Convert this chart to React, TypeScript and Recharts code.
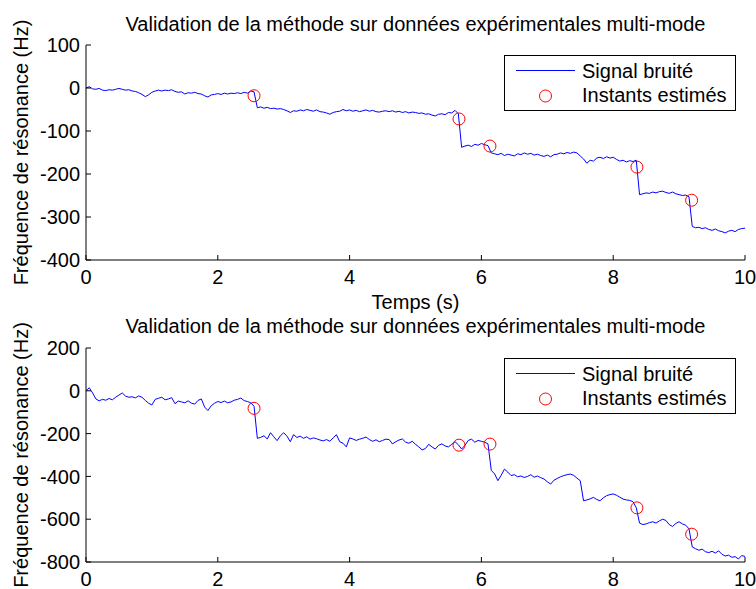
import { ComposedChart, Line, Scatter, XAxis, YAxis } from 'recharts';

// sampling step of the recorded signal (s)
const SAMPLE_STEP = 0.05;

const timeTicks = [0, 2, 4, 6, 8, 10];
const topTicks = [-400, -300, -200, -100, 0, 100];
const bottomTicks = [-800, -600, -400, -200, 0, 200];

const instantTimes = [2.55, 5.66, 6.13, 8.36, 9.19];
const topInstantValues = [-18, -72, -135, -184, -261];
const bottomInstantValues = [-82, -254, -249, -547, -670];

// top subplot, one row per second
const topSignal = [
  0, 3, -2, -3, -1, -5, -6, -4, -5, -3, -1, -3, -5, -4, -7, -8, -11, -15, -20, -16,
  -10, -7, -5, -7, -5, -6, -4, -8, -10, -9, -14, -11, -12, -10, -13, -14, -18, -21, -16, -15,
  -13, -15, -12, -14, -12, -13, -11, -13, -10, -12, -7, -9, -46, -44, -47, -45, -48, -47, -49, -48,
  -50, -53, -57, -53, -54, -51, -53, -50, -52, -54, -51, -55, -56, -58, -61, -57, -55, -54, -50, -53,
  -51, -54, -52, -55, -53, -51, -54, -52, -55, -56, -54, -53, -55, -53, -56, -54, -57, -55, -58, -56,
  -57, -59, -58, -61, -60, -63, -65, -61, -60, -62, -57, -58, -52, -60, -138, -135, -133, -136, -131, -133,
  -129, -132, -134, -151, -153, -155, -152, -157, -154, -156, -158, -153, -155, -151, -154, -152, -156, -154, -157, -159,
  -156, -160, -155, -154, -151, -153, -150, -152, -149, -151, -158, -165, -175, -168, -170, -163, -161, -164, -160, -163,
  -161, -166, -170, -168, -172, -169, -171, -168, -248, -246, -244, -245, -242, -244, -241, -240, -243, -245, -242, -246,
  -248, -250, -249, -253, -322, -325, -324, -327, -325, -329, -331, -328, -332, -334, -337, -333, -331, -334, -329, -327,
  -326,
];

// bottom subplot, one row per second
const bottomSignal = [
  0, 14, -10, -38, -47, -40, -44, -36, -42, -30, -20, -10, -25, -30, -28, -33, -24, -30, -45, -58,
  -66, -40, -35, -30, -42, -38, -32, -60, -48, -52, -56, -47, -58, -62, -45, -38, -76, -92, -70, -58,
  -50, -55, -48, -56, -52, -44, -40, -34, -46, -50, -56, -72, -222, -218, -210, -225, -196, -215, -233, -210,
  -196, -212, -238, -205, -218, -212, -222, -215, -226, -220, -224, -230, -234, -228, -236, -220, -205, -238, -245, -262,
  -220, -225, -232, -226, -222, -216, -228, -236, -229, -238, -232, -226, -228, -248, -238, -230, -225, -240, -245, -236,
  -250, -262, -276, -270, -250, -262, -272, -255, -248, -258, -262, -250, -238, -252, -272, -255, -232, -226, -240, -232,
  -236, -240, -248, -372, -388, -420, -395, -366, -380, -396, -392, -402, -398, -405, -400, -392, -404, -398, -406, -412,
  -425, -436, -418, -410, -402, -396, -392, -389, -395, -408, -420, -514, -510, -505, -498, -508, -514, -500, -490, -485,
  -482, -488, -497, -506, -510, -512, -518, -546, -618, -625, -622, -616, -612, -618, -608, -600, -606, -625, -634, -620,
  -612, -622, -628, -645, -730, -738, -745, -740, -752, -756, -750, -758, -748, -764, -772, -768, -778, -775, -786, -770,
  -774,
];

const FONT = '"Liberation Sans", Arial, Helvetica, sans-serif';
const BLUE = '#0000ff';
const RED = '#ff0000';
const TITLE = 'Validation de la méthode sur données expérimentales multi-mode';
const Y_LABEL = 'Fréquence de résonance (Hz)';

const toSeries = (values: number[]) =>
  values.map((v, i) => ({ t: Math.round(i * SAMPLE_STEP * 100) / 100, v }));

const toInstants = (values: number[]) =>
  instantTimes.map((t, i) => ({ t, v: values[i] }));

const blank = () => '';

function RedCircle(props: { cx?: number; cy?: number }) {
  if (props.cx == null || props.cy == null) return null;
  return <circle cx={props.cx} cy={props.cy} r={6} fill="none" stroke={RED} strokeWidth={1} />;
}

interface SubplotProps {
  top: number;
  height: number;
  marginTop: number;
  xAxisHeight: number;
  signal: number[];
  instants: number[];
  domain: [number, number];
  ticks: number[];
  xLabel?: string;
}

function Subplot({ top, height, marginTop, xAxisHeight, signal, instants, domain, ticks, xLabel }: SubplotProps) {
  return (
    <div style={{ position: 'absolute', left: 0, top, width: 756, height }}>
      <ComposedChart
        width={756}
        height={height}
        data={toSeries(signal)}
        margin={{ top: marginTop, right: 11, bottom: 0, left: 0 }}
      >
        <XAxis
          xAxisId="b"
          type="number"
          dataKey="t"
          domain={[0, 10]}
          ticks={timeTicks}
          allowDataOverflow
          height={xAxisHeight}
          stroke="#000"
          tickSize={-5}
          tickMargin={15}
          tick={{ fill: '#000', fontSize: 20 }}
          label={xLabel ? { value: xLabel, position: 'insideBottom', offset: 11, fill: '#000', fontSize: 20 } : undefined}
        />
        <XAxis
          xAxisId="top"
          orientation="top"
          type="number"
          domain={[0, 10]}
          ticks={timeTicks}
          allowDataOverflow
          height={0}
          stroke="#000"
          tickSize={-5}
          tickFormatter={blank}
        />
        <YAxis
          yAxisId="l"
          type="number"
          dataKey="v"
          domain={domain}
          ticks={ticks}
          allowDataOverflow
          width={86}
          stroke="#000"
          tickSize={-5}
          tickMargin={11}
          tick={{ fill: '#000', fontSize: 20 }}
          label={{
            value: Y_LABEL,
            angle: -90,
            position: 'insideLeft',
            offset: 21,
            fill: '#000',
            fontSize: 20,
            style: { textAnchor: 'middle' },
          }}
        />
        <YAxis
          yAxisId="r"
          orientation="right"
          type="number"
          domain={domain}
          ticks={ticks}
          allowDataOverflow
          width={0}
          stroke="#000"
          tickSize={-5}
          tickFormatter={blank}
        />
        <Line
          xAxisId="b"
          yAxisId="l"
          type="linear"
          dataKey="v"
          stroke={BLUE}
          strokeWidth={1}
          dot={false}
          activeDot={false}
          isAnimationActive={false}
        />
        <Scatter
          xAxisId="b"
          yAxisId="l"
          data={toInstants(instants)}
          dataKey="v"
          shape={RedCircle}
          isAnimationActive={false}
        />
      </ComposedChart>
    </div>
  );
}

function Title({ top }: { top: number }) {
  return (
    <div
      style={{
        position: 'absolute',
        left: 86,
        top,
        width: 659,
        textAlign: 'center',
        fontSize: 20,
        lineHeight: '20px',
        whiteSpace: 'nowrap',
        color: '#000',
      }}
    >
      {TITLE}
    </div>
  );
}

function LegendBox({ top }: { top: number }) {
  return (
    <svg style={{ position: 'absolute', left: 504, top }} width={233} height={57}>
      <rect x={0.5} y={0.5} width={231} height={55} fill="#fff" stroke="#000" />
      <line x1={12} x2={71} y1={15.5} y2={15.5} stroke={BLUE} />
      <text x={78} y={22.5} fontSize={20} fill="#000">Signal bruité</text>
      <circle cx={41.5} cy={41} r={6} fill="none" stroke={RED} />
      <text x={78} y={47} fontSize={20} fill="#000">Instants estimés</text>
    </svg>
  );
}

export default function App() {
  return (
    <div
      style={{
        position: 'absolute',
        left: 0,
        top: 0,
        width: 756,
        height: 589,
        background: '#fff',
        fontFamily: FONT,
        overflow: 'hidden',
      }}
    >
      <Title top={14} />
      <Title top={316} />
      <Subplot
        top={0}
        height={320}
        marginTop={45}
        xAxisHeight={60}
        signal={topSignal}
        instants={topInstantValues}
        domain={[-400, 100]}
        ticks={topTicks}
        xLabel="Temps (s)"
      />
      <Subplot
        top={300}
        height={289}
        marginTop={48}
        xAxisHeight={27}
        signal={bottomSignal}
        instants={bottomInstantValues}
        domain={[-800, 200]}
        ticks={bottomTicks}
      />
      <LegendBox top={55} />
      <LegendBox top={358} />
    </div>
  );
}
